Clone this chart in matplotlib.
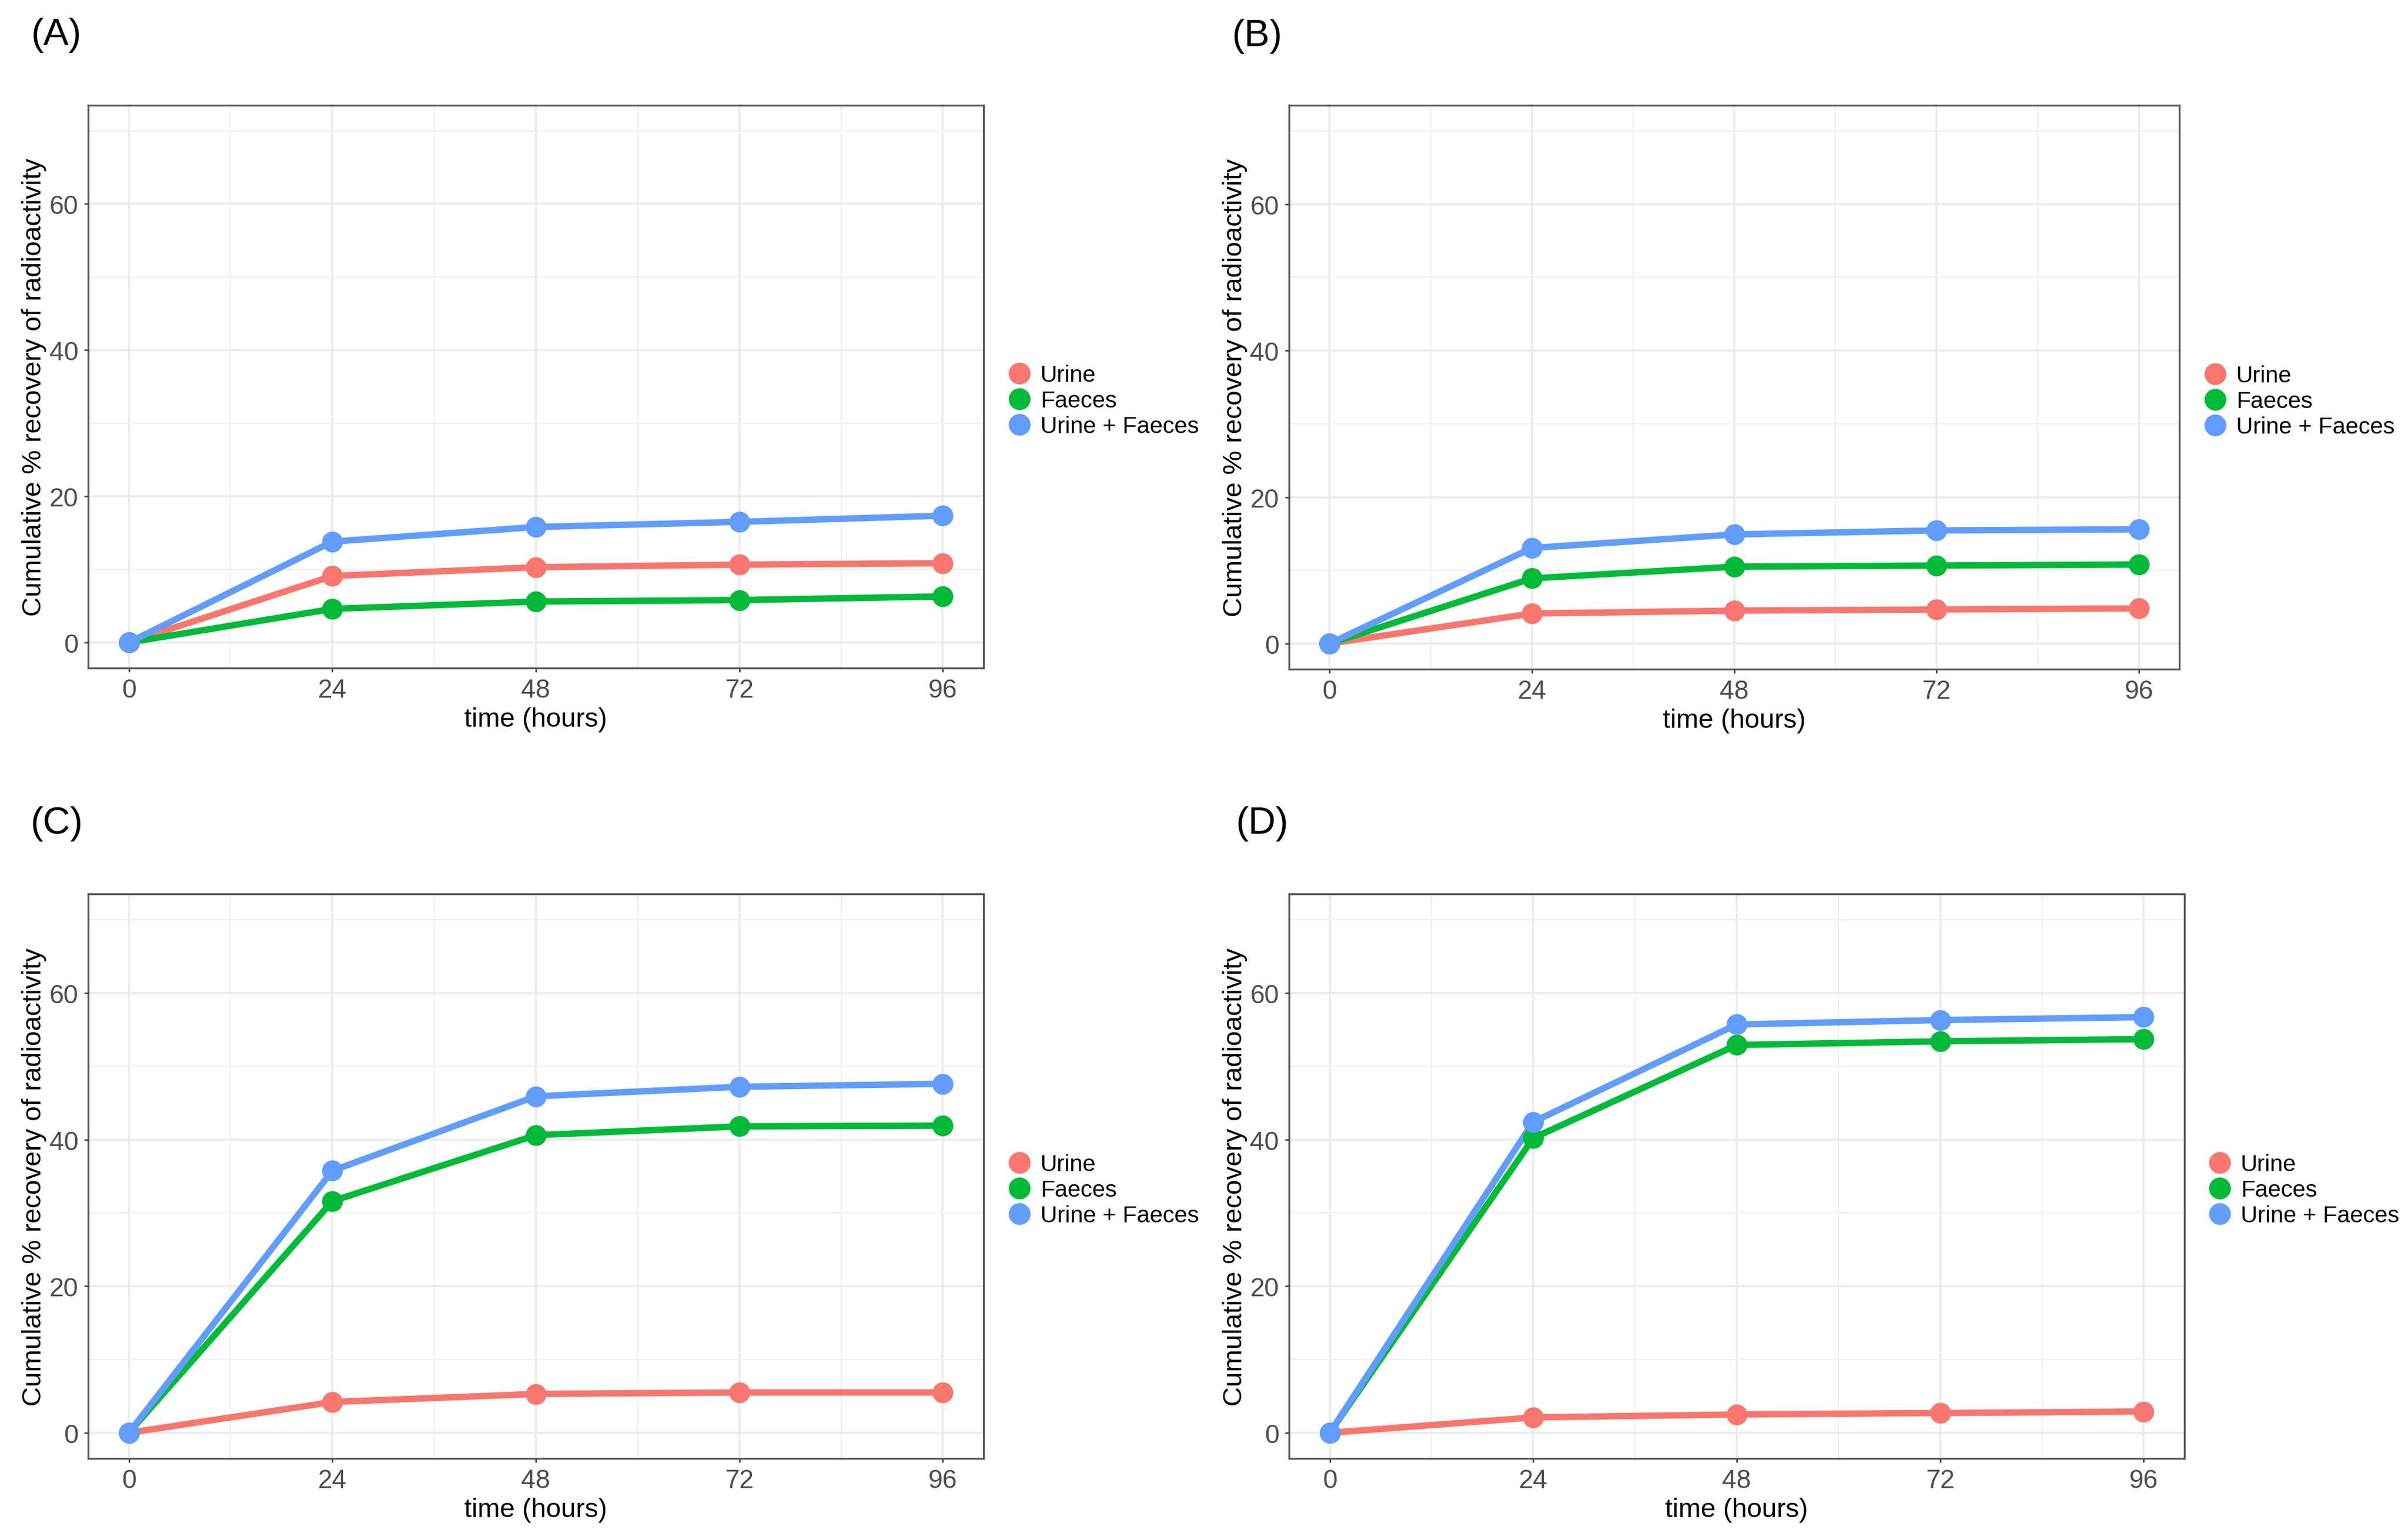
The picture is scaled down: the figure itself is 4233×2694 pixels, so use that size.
import matplotlib
matplotlib.use("Agg")
import matplotlib.pyplot as plt
from matplotlib.lines import Line2D

plt.rcParams['font.family'] = ['Liberation Sans', 'DejaVu Sans']

# ---------------- data ----------------
time_hours = [0, 24, 48, 72, 96]
series_names = ["Urine", "Faeces", "Urine + Faeces"]
series_colors = ["#F8766D", "#00BA38", "#619CFF"]

panel_labels = ["(A)", "(B)", "(C)", "(D)"]

urine_A = [0, 9.1, 10.3, 10.65, 10.85]
faeces_A = [0, 4.6, 5.6, 5.8, 6.3]
total_A = [0, 13.8, 15.8, 16.5, 17.35]

urine_B = [0, 4.1, 4.5, 4.65, 4.8]
faeces_B = [0, 8.9, 10.5, 10.65, 10.8]
total_B = [0, 13.05, 14.9, 15.45, 15.6]

urine_C = [0, 4.2, 5.3, 5.5, 5.5]
faeces_C = [0, 31.6, 40.6, 41.8, 41.9]
total_C = [0, 35.75, 45.9, 47.2, 47.6]

urine_D = [0, 2.1, 2.5, 2.7, 2.9]
faeces_D = [0, 40.2, 52.9, 53.4, 53.7]
total_D = [0, 42.4, 55.7, 56.3, 56.7]

x_major = [0, 24, 48, 72, 96]
x_minor = [12, 36, 60, 84]
y_major = [0, 20, 40, 60]
y_minor = [10, 30, 50, 70]

x_label = "time (hours)"
y_label = "Cumulative % recovery of radioactivity"

panels = [
    (urine_A, faeces_A, total_A),
    (urine_B, faeces_B, total_B),
    (urine_C, faeces_C, total_C),
    (urine_D, faeces_D, total_D),
]

# ---------------- layout (pixels) ----------------
W, H = 4233, 2695
fig = plt.figure(figsize=(W / 300, H / 300), dpi=300)
fig.patch.set_facecolor("white")

# (left, right, top, bottom) of each panel in pixels
boxes = [
    (155, 1729, 186, 1175),
    (2266, 3831, 186, 1177),
    (155, 1729, 1572, 2564),
    (2266, 3840, 1572, 2564),
]
label_pos = [(55, 62), (2166, 64), (54, 1448), (2173, 1448)]
legend_pos = [(1772, 705), (3874, 706), (1772, 2092), (3882, 2092)]

for i, (vals, box) in enumerate(zip(panels, boxes)):
    l, r, t, b = box
    ax = fig.add_axes([l / W, 1 - b / H, (r - l) / W, (b - t) / H])
    ax.set_xlim(-4.8, 100.8)
    ax.set_ylim(-3.5, 73.5)
    ax.set_xticks(x_major)
    ax.set_xticks(x_minor, minor=True)
    ax.set_yticks(y_major)
    ax.set_yticks(y_minor, minor=True)
    ax.grid(which="major", color="#EBEBEB", linewidth=0.85, zorder=0)
    ax.grid(which="minor", color="#F0F0F0", linewidth=0.5, zorder=0)
    ax.set_axisbelow(True)
    for s in ax.spines.values():
        s.set_color("#555555")
        s.set_linewidth(0.8)
    ax.tick_params(which="major", length=1.6, width=0.6, color="#333333",
                   labelsize=11, labelcolor="#4D4D4D", pad=2.6)
    ax.tick_params(which="minor", length=0)

    for ys, c in zip(vals, series_colors):
        ax.plot(time_hours, ys, color=c, linewidth=2.7, solid_capstyle="butt", zorder=2)
    for ys, c in zip(vals, series_colors):
        ax.plot(time_hours, ys, linestyle="none", marker="o", markersize=8.8,
                markerfacecolor=c, markeredgecolor=c, markeredgewidth=0, zorder=3)

    ax.set_xlabel(x_label, fontsize=11.3, color="black", labelpad=1.5)
    ax.set_ylabel(y_label, fontsize=11.4, color="black", labelpad=1.0)

    handles = [Line2D([], [], linestyle="none", marker="o", markersize=9.2,
                      markerfacecolor=c, markeredgewidth=0) for c in series_colors]
    lx, ly = legend_pos[i]
    ax.legend(handles, series_names, loc="center left",
              bbox_to_anchor=(lx / W, 1 - ly / H), bbox_transform=fig.transFigure,
              frameon=False, fontsize=9.8, handlelength=1.0, handletextpad=0.4,
              labelspacing=0.17, borderpad=0, borderaxespad=0, numpoints=1)

    px, py = label_pos[i]
    fig.text(px / W, 1 - py / H, panel_labels[i], fontsize=16, ha="left",
             va="center", color="black")

fig.savefig("out.png", dpi=300, facecolor="white")
